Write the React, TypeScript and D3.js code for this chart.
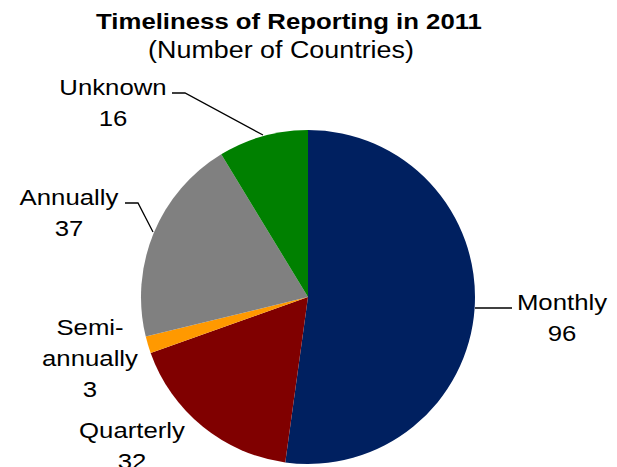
import React from "react";
import * as d3 from "d3";

const categories = ["Monthly", "Quarterly", "Semi-annually", "Annually", "Unknown"];
const values = [96, 32, 3, 37, 16];
const colors = ["#002060", "#800000", "#FF9900", "#808080", "#008000"];
const labelLines = [["Monthly", "96"], ["Quarterly", "32"], ["Semi-", "annually", "3"], ["Annually", "37"], ["Unknown", "16"]];
const title = "Timeliness of Reporting in 2011";
const subtitle = "(Number of Countries)";

const W = 617, H = 467;
const cx = 308, cy = 297, R = 167;
const SX = 1.12;
const FONT = "'Liberation Sans', Arimo, Helvetica, sans-serif";

// label centers (x), first baseline (y)
const labelPos = [
  { x: 562, y: 310 },
  { x: 132, y: 438 },
  { x: 90, y: 335 },
  { x: 69, y: 205 },
  { x: 113, y: 95 },
];
// leader line: [text end x, elbow x, y]
const leaders: (null | { x0: number; x1: number; y: number })[] = [
  { x0: 512, x1: 512, y: 308 },
  null,
  null,
  { x0: 125, x1: 138, y: 203 },
  { x0: 172, x1: 185, y: 93 },
];

export default function App() {
  const pie = d3.pie<number>().sort(null).value((d) => d)(values);
  const arc = d3.arc<d3.PieArcDatum<number>>().innerRadius(0).outerRadius(R);
  const lineH = 31;

  const edgePts: Record<number, [number, number]> = {
    0: [cx + R, 308],
    3: [153, 232],
    4: [263, 135],
  };

  return (
    <svg width={W} height={H} style={{ position: "absolute", left: 0, top: 0, background: "#fff" }} fontFamily={FONT}>
      <g transform={`translate(${cx},${cy})`}>
        {pie.map((p, i) => (
          <path key={categories[i]} d={arc(p) || ""} fill={colors[i]} />
        ))}
      </g>
      <g transform={`translate(289,29) scale(${SX},1)`}>
        <text textAnchor="middle" fontSize={23} fontWeight="bold" fill="#000">{title}</text>
      </g>
      <g transform={`translate(281,58) scale(${SX},1)`}>
        <text textAnchor="middle" fontSize={24} fill="#000">{subtitle}</text>
      </g>
      {leaders.map((l, i) => {
        if (!l) return null;
        const e = edgePts[i];
        const pts: [number, number][] = i === 0 ? [[e[0], e[1]], [l.x0, l.y]] : [[l.x0, l.y], [l.x1, l.y], e];
        return (
          <path key={"l" + i} d={d3.line()(pts) || ""} fill="none" stroke="#000" strokeWidth={1.3} />
        );
      })}
      {labelLines.map((lines, i) => (
        <g key={"t" + i}>
          {lines.map((t, j) => (
            <g key={j} transform={`translate(${labelPos[i].x},${labelPos[i].y + j * lineH}) scale(${SX},1)`}>
              <text textAnchor="middle" fontSize={23} fill="#000">{t}</text>
            </g>
          ))}
        </g>
      ))}
    </svg>
  );
}
